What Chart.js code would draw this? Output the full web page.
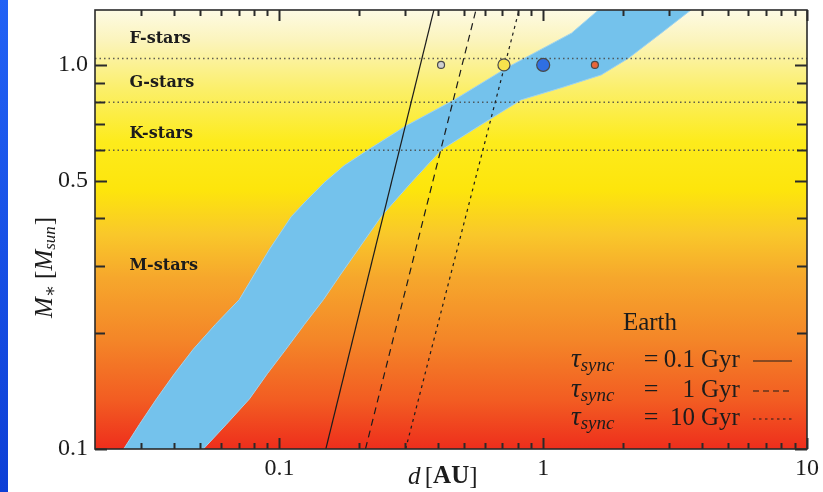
<!DOCTYPE html>
<html>
<head>
<meta charset="utf-8">
<script src="https://cdn.jsdelivr.net/npm/chart.js@4.4.1/dist/chart.umd.min.js"></script>
<style>
html,body{margin:0;padding:0;background:#fff;}
#wrap{position:relative;width:823px;height:492px;overflow:hidden;}
#franja{position:absolute;left:0;top:0;width:8px;height:492px;background:linear-gradient(#2262f5,#0d3fd6);}
canvas{position:absolute;left:0;top:0;}
</style>
</head>
<body>
<div id="wrap"><canvas id="grafica" width="823" height="492"></canvas><div id="franja"></div></div>
<script>
// zona habitable (banda azul): borde izquierdo de abajo hacia arriba, borde derecho de arriba hacia abajo
var bandaIzqD = [0.0257, 0.0295, 0.0342, 0.040, 0.0472, 0.0572, 0.0705, 0.0804, 0.0917, 0.111, 0.1276, 0.148, 0.176, 0.217, 0.303, 0.460, 0.737, 1.28, 1.62];
var bandaIzqM = [0.1, 0.116, 0.135, 0.157, 0.182, 0.211, 0.245, 0.285, 0.331, 0.403, 0.446, 0.494, 0.547, 0.601, 0.695, 0.811, 0.988, 1.21, 1.39];
var bandaDerD = [3.63, 2.80, 2.10, 1.66, 1.17, 0.825, 0.582, 0.411, 0.316, 0.243, 0.199, 0.169, 0.147, 0.1244, 0.106, 0.090, 0.077, 0.063, 0.0515];
var bandaDerM = [1.39, 1.21, 1.04, 0.942, 0.872, 0.811, 0.699, 0.601, 0.494, 0.403, 0.331, 0.282, 0.245, 0.211, 0.182, 0.157, 0.135, 0.116, 0.1];

// limites entre tipos espectrales
var limitesM = [1.04, 0.8, 0.6];
var tiposEstrella = ['F-stars', 'G-stars', 'K-stars', 'M-stars'];
var tiposMasa = [1.17, 0.9, 0.66, 0.3];
var tiposD = 0.027;

// planetas del sistema solar
var planetasNombre = ['Mercury', 'Venus', 'Earth', 'Mars'];
var planetasD = [0.41, 0.71, 1.0, 1.57];
var planetasM = [1.0, 1.0, 1.0, 1.0];

// tiempos de sincronizacion
var tauEtiquetas = ['0.1', '1', '10'];
var tauMasa = [0.1, 1.39];
var tauD = [[0.15, 0.385], [0.212, 0.556], [0.301, 0.81]];

// ticks
var xTicks = [0.03,0.04,0.05,0.06,0.07,0.08,0.09,0.1,0.2,0.3,0.4,0.5,0.6,0.7,0.8,0.9,1,2,3,4,5,6,7,8,9,10];
var xEtiquetas = [0.1, 1, 10];
var yTicks = [0.1,0.2,0.3,0.4,0.5,0.6,0.7,0.8,0.9,1.0];
var yEtiquetas = [0.1, 0.5, 1.0];

function puntos(ds, ms){
    return ds.map(function(d, i){ return {x: d, y: ms[i]}; });
}

var serif = '"Liberation Serif", "DejaVu Serif", serif';
var tinta = '#1c1c1c';

var fondoPlugin = {
    id: 'fondo',
    beforeDraw: function(chart){
        var a = chart.chartArea, c = chart.ctx;
        var g = c.createLinearGradient(0, a.top, 0, a.bottom);
        g.addColorStop(0, '#fdfae4');
        g.addColorStop(0.07, '#fbf4bc');
        g.addColorStop(0.18, '#fbef6a');
        g.addColorStop(0.30, '#fdeb1c');
        g.addColorStop(0.41, '#fde50c');
        g.addColorStop(0.51, '#f9c82a');
        g.addColorStop(0.61, '#f6a72c');
        g.addColorStop(0.75, '#f48628');
        g.addColorStop(0.89, '#f25c22');
        g.addColorStop(1, '#ee2e1c');
        c.save();
        c.fillStyle = g;
        c.fillRect(a.left, a.top, a.right - a.left, a.bottom - a.top);
        c.restore();
    }
};

var marcoPlugin = {
    id: 'marco',
    afterDatasetsDraw: function(chart){
        var a = chart.chartArea, c = chart.ctx;
        var sx = chart.scales.x, sy = chart.scales.y;
        c.save();
        c.strokeStyle = '#2a2a2a';
        c.lineWidth = 1.6;
        c.strokeRect(a.left, a.top, a.right - a.left, a.bottom - a.top);
        c.lineWidth = 2;
        c.beginPath();
        xTicks.forEach(function(v){
            var px = Math.round(sx.getPixelForValue(v)) + 0.5;
            var l = xEtiquetas.indexOf(v) >= 0 ? 11 : 6;
            c.moveTo(px, a.bottom); c.lineTo(px, a.bottom - l);
            c.moveTo(px, a.top); c.lineTo(px, a.top + l);
        });
        yTicks.forEach(function(v){
            var py = Math.round(sy.getPixelForValue(v)) + 0.5;
            var l = yEtiquetas.indexOf(v) >= 0 ? 12 : 10;
            c.moveTo(a.left, py); c.lineTo(a.left + l, py);
            c.moveTo(a.right, py); c.lineTo(a.right - l, py);
        });
        c.stroke();
        c.restore();
    }
};

var textosPlugin = {
    id: 'textos',
    afterDraw: function(chart){
        var a = chart.chartArea, c = chart.ctx;
        var sx = chart.scales.x, sy = chart.scales.y;
        c.save();
        c.fillStyle = tinta;
        // tipos de estrella
        c.font = 'bold 16px "DejaVu Serif", serif';
        c.textAlign = 'left';
        c.textBaseline = 'middle';
        tiposEstrella.forEach(function(t, i){
            c.fillText(t, sx.getPixelForValue(tiposD), sy.getPixelForValue(tiposMasa[i]));
        });

        // leyenda
        c.font = '25px ' + serif;
        c.textAlign = 'center';
        c.fillText('Earth', a.right - 157, a.top + 313);
        var filas = [a.top + 350, a.top + 380, a.top + 408];
        var estilos = [[], [6, 4], [2.5, 3.5]];
        tauEtiquetas.forEach(function(t, i){
            var y = filas[i];
            c.textAlign = 'left';
            c.font = 'italic 27px ' + serif;
            var x0 = a.right - 236;
            c.fillText('\u03c4', x0, y);
            x0 += c.measureText('\u03c4').width;
            c.font = 'italic 19px ' + serif;
            c.fillText('sync', x0, y + 6);
            c.font = '26px ' + serif;
            c.textAlign = 'center';
            c.fillText('=', a.right - 156, y);
            c.font = '25px ' + serif;
            c.textAlign = 'right';
            c.fillText(t, a.right - 112, y);
            c.textAlign = 'left';
            c.fillText('Gyr', a.right - 106, y);
            c.save();
            c.strokeStyle = tinta;
            c.lineWidth = 1.2;
            c.setLineDash(estilos[i]);
            c.beginPath();
            c.moveTo(a.right - 54, y + 1);
            c.lineTo(a.right - 15, y + 1);
            c.stroke();
            c.restore();
        });

        // titulo eje x: d [AU]
        c.textBaseline = 'middle';
        c.textAlign = 'left';
        var ty = a.bottom + 28, tx = 408;
        c.font = 'italic 25px ' + serif;
        c.fillText('d', tx, ty);
        tx += c.measureText('d ').width - 2;
        c.font = '25px ' + serif;
        c.fillText('[', tx, ty);
        tx += c.measureText('[').width;
        c.font = 'bold 25px ' + serif;
        c.fillText('AU', tx, ty);
        tx += c.measureText('AU').width;
        c.font = '25px ' + serif;
        c.fillText(']', tx, ty);

        // titulo eje y: M* [Msun]
        c.translate(45, 318);
        c.rotate(-Math.PI / 2);
        var px = 0;
        c.font = 'italic 25px ' + serif;
        c.fillText('M', px, 0);
        px += c.measureText('M').width;
        c.font = '18px ' + serif;
        c.fillText('\u2217', px, 6);
        px += c.measureText('\u2217').width + 6;
        c.font = '25px ' + serif;
        c.fillText('[', px, 0);
        px += c.measureText('[').width;
        c.font = 'italic 25px ' + serif;
        c.fillText('M', px, 0);
        px += c.measureText('M').width;
        c.font = 'italic 17px ' + serif;
        c.fillText('sun', px, 6);
        px += c.measureText('sun').width + 1;
        c.font = '25px ' + serif;
        c.fillText(']', px, 0);
        c.restore();
    }
};

var datasets = [];

datasets.push({
    label: 'Mercury, Venus, Earth, Mars',
    data: puntos(planetasD, planetasM),
    showLine: false,
    pointRadius: [3.5, 6, 6.5, 3.5],
    pointBackgroundColor: ['#cfcfcf', '#f6e24c', '#2f6fe2', '#e8653a'],
    pointBorderColor: '#4a4a4a',
    pointBorderWidth: 1.2,
    order: 0
});

tauD.forEach(function(par, i){
    datasets.push({
        label: 'tau ' + tauEtiquetas[i],
        data: puntos(par, tauMasa),
        showLine: true,
        pointRadius: 0,
        borderColor: tinta,
        borderWidth: 1.2,
        borderDash: [[], [7, 5], [3, 4]][i],
        fill: false,
        order: 2
    });
});

limitesM.forEach(function(m){
    datasets.push({
        label: 'limite ' + m,
        data: [{x: 0.02, y: m}, {x: 10, y: m}],
        showLine: true,
        pointRadius: 0,
        borderColor: 'rgba(70,70,70,0.85)',
        borderWidth: 1.5,
        borderDash: [1.5, 3],
        fill: false,
        order: 3
    });
});

datasets.push({
    label: 'zona habitable',
    data: puntos(bandaIzqD, bandaIzqM).concat(puntos(bandaDerD, bandaDerM)),
    showLine: true,
    pointRadius: 0,
    borderColor: '#9fd3ef',
    borderWidth: 1,
    backgroundColor: '#74c2ec',
    fill: 'shape',
    tension: 0,
    order: 5
});

var chart = new Chart(document.getElementById('grafica').getContext('2d'), {
    type: 'scatter',
    data: {datasets: datasets},
    options: {
        responsive: false,
        animation: false,
        devicePixelRatio: 1,
        layout: {padding: {top: 10, right: 16, left: 0, bottom: 0}},
        plugins: {legend: {display: false}, tooltip: {enabled: false}},
        scales: {
            x: {
                type: 'logarithmic',
                min: 0.02,
                max: 10,
                grid: {display: false, drawTicks: false},
                border: {display: false},
                afterBuildTicks: function(s){ s.ticks = xTicks.map(function(v){ return {value: v}; }); },
                afterFit: function(s){ s.height = 43; s.paddingLeft = 0; s.paddingRight = 0; },
                ticks: {
                    autoSkip: false, maxRotation: 0, padding: 5, color: tinta,
                    font: {family: serif, size: 24},
                    callback: function(v){ return xEtiquetas.indexOf(v) >= 0 ? String(v) : ''; }
                }
            },
            y: {
                type: 'logarithmic',
                min: 0.1,
                max: 1.39,
                grid: {display: false, drawTicks: false},
                border: {display: false},
                afterBuildTicks: function(s){ s.ticks = yTicks.map(function(v){ return {value: v}; }); },
                afterFit: function(s){ s.width = 95; s.paddingTop = 0; s.paddingBottom = 0; },
                ticks: {
                    autoSkip: false, padding: 7, color: tinta,
                    font: {family: serif, size: 24},
                    callback: function(v){ return yEtiquetas.indexOf(v) >= 0 ? v.toFixed(1) : ''; }
                }
            }
        }
    },
    plugins: [fondoPlugin, marcoPlugin, textosPlugin]
});
</script>
</body>
</html>
